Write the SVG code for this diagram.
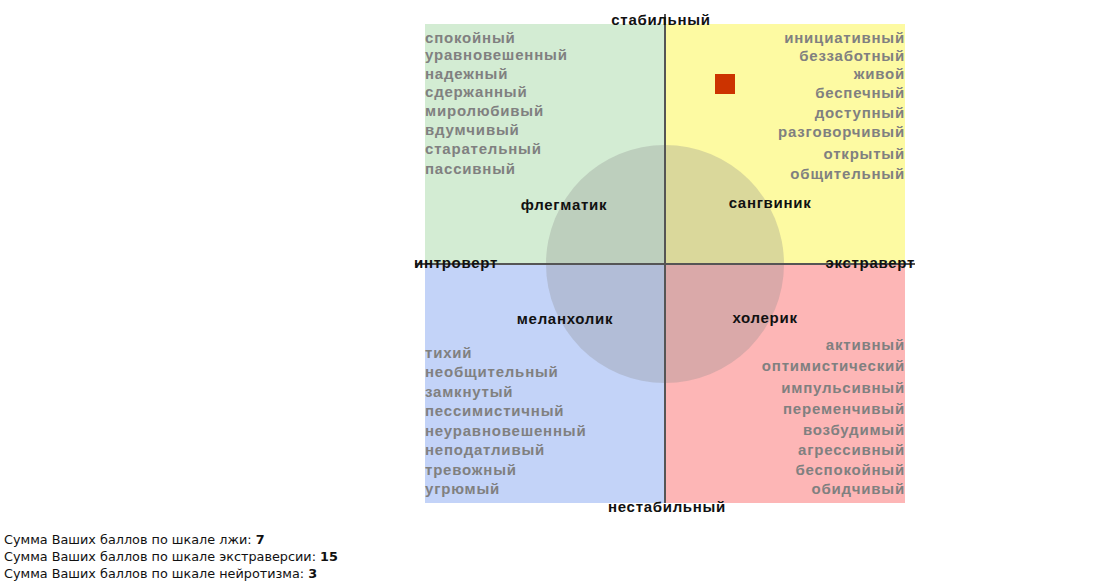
<svg xmlns="http://www.w3.org/2000/svg" width="1117" height="588" viewBox="0 0 1117 588">
<style>
.w{font-family:"Liberation Sans",Arial,sans-serif;font-weight:bold;font-size:15px;letter-spacing:0.8px;fill:#808080}
.r{text-anchor:end}
.l{font-family:"Liberation Sans",Arial,sans-serif;font-weight:bold;font-size:15px;letter-spacing:0.7px;fill:#111}
.m{text-anchor:middle}
.s{font-family:"DejaVu Sans",Tahoma,sans-serif;font-size:12.8px;fill:#111}
</style>
<rect width="1117" height="588" fill="#fff"/>
<g id="quadrants">
<rect x="425" y="24" width="240" height="240" fill="#d3ecd3"/>
<rect x="665" y="24" width="240" height="240" fill="#fdfaa2"/>
<rect x="425" y="264" width="240" height="239" fill="#c3d3f8"/>
<rect x="665" y="264" width="240" height="239" fill="#fdb6b6"/>
</g>
<g id="circle"><circle cx="665" cy="264" r="119" fill="#8a8a8a" fill-opacity="0.3"/></g>
<g id="axes" stroke="#555" stroke-width="2">
<line x1="665" y1="14" x2="665" y2="503"/>
<line x1="415" y1="264" x2="915" y2="264"/>
</g>
<g id="marker"><rect x="715" y="74" width="20" height="20" fill="#cc3300"/></g>
<g id="words-phlegmatic" class="w">
<text x="425" y="43">спокойный</text>
<text x="425" y="60">уравновешенный</text>
<text x="425" y="79">надежный</text>
<text x="425" y="97">сдержанный</text>
<text x="425" y="116">миролюбивый</text>
<text x="425" y="135">вдумчивый</text>
<text x="425" y="154">старательный</text>
<text x="425" y="174">пассивный</text>
</g>
<g id="words-sanguine" class="w r">
<text x="905" y="43">инициативный</text>
<text x="905" y="61">беззаботный</text>
<text x="905" y="79">живой</text>
<text x="905" y="98">беспечный</text>
<text x="905" y="118">доступный</text>
<text x="905" y="137">разговорчивый</text>
<text x="905" y="159">открытый</text>
<text x="905" y="179">общительный</text>
</g>
<g id="words-melancholic" class="w">
<text x="425" y="358">тихий</text>
<text x="425" y="377">необщительный</text>
<text x="425" y="397">замкнутый</text>
<text x="425" y="416">пессимистичный</text>
<text x="425" y="436">неуравновешенный</text>
<text x="425" y="455">неподатливый</text>
<text x="425" y="475">тревожный</text>
<text x="425" y="494">угрюмый</text>
</g>
<g id="words-choleric" class="w r">
<text x="905" y="350">активный</text>
<text x="905" y="371">оптимистический</text>
<text x="905" y="393">импульсивный</text>
<text x="905" y="414">переменчивый</text>
<text x="905" y="435">возбудимый</text>
<text x="905" y="455">агрессивный</text>
<text x="905" y="475">беспокойный</text>
<text x="905" y="494">обидчивый</text>
</g>
<g id="labels" class="l">
<text x="661" y="25" class="m">стабильный</text>
<text x="667" y="512" class="m">нестабильный</text>
<text x="414" y="268">интроверт</text>
<text x="915" y="268" text-anchor="end">экстраверт</text>
<text x="564" y="210" class="m">флегматик</text>
<text x="770" y="208" class="m">сангвиник</text>
<text x="565" y="324" class="m">меланхолик</text>
<text x="765" y="323" class="m">холерик</text>
</g>
<g id="scores" class="s">
<text x="4" y="544">Сумма Ваших баллов по шкале лжи: <tspan font-weight="bold">7</tspan></text>
<text x="4" y="561">Сумма Ваших баллов по шкале экстраверсии: <tspan font-weight="bold">15</tspan></text>
<text x="4" y="578">Сумма Ваших баллов по шкале нейротизма: <tspan font-weight="bold">3</tspan></text>
</g>
</svg>
